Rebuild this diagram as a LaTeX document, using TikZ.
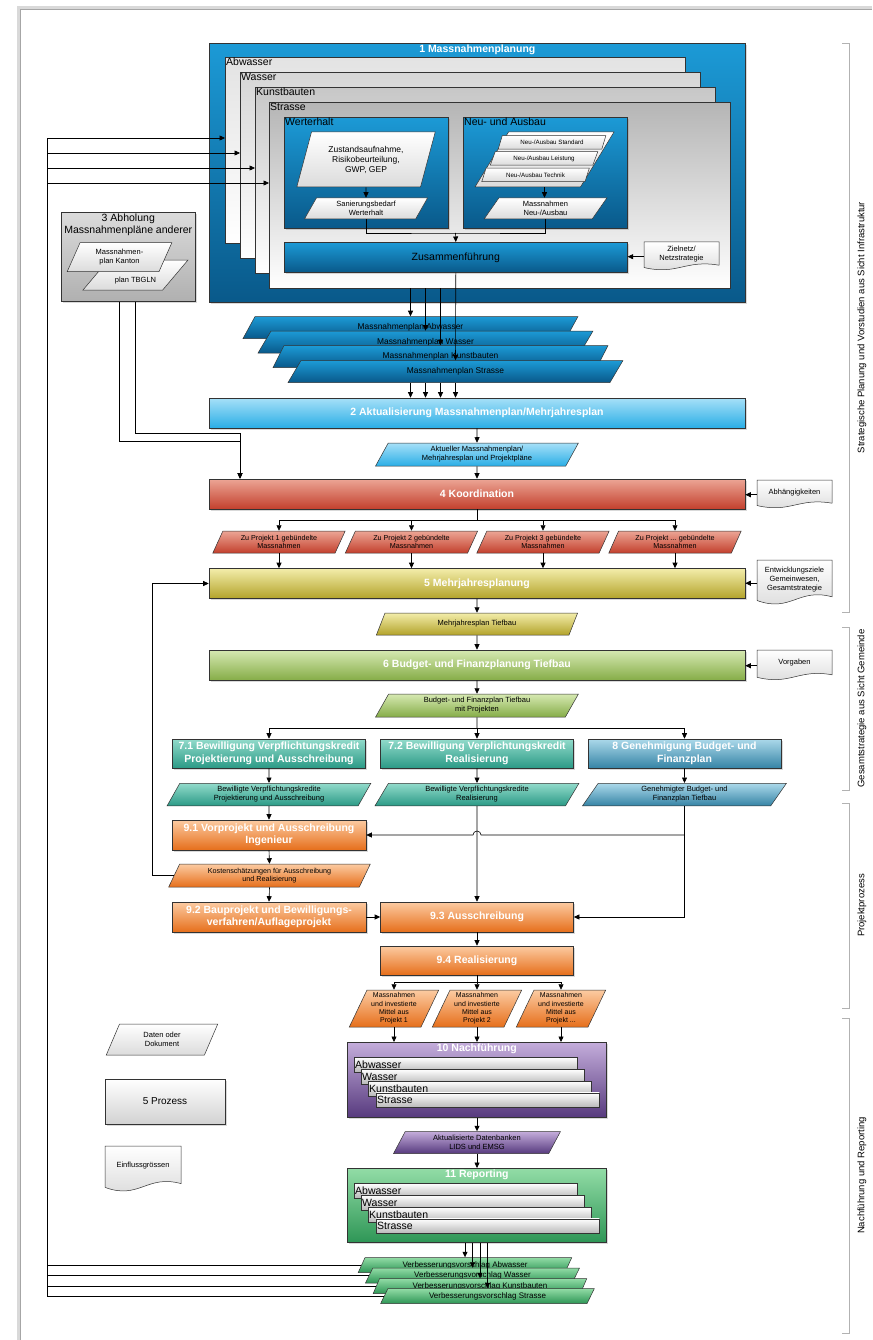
\documentclass[tikz,border=0pt]{standalone}
\usepackage{fontspec}
\setmainfont{Liberation Sans}
\usetikzlibrary{arrows.meta,shapes.geometric,shadows}

\definecolor{Rahmen}{HTML}{333333}
\definecolor{BlauOben}{HTML}{1C9AD6}
\definecolor{BlauUnten}{HTML}{09598A}
\definecolor{HellblauOben}{HTML}{A6E0F8}
\definecolor{HellblauUnten}{HTML}{2AAEE6}
\definecolor{RotOben}{HTML}{ECA595}
\definecolor{RotUnten}{HTML}{C3402D}
\definecolor{OlivOben}{HTML}{F3EDAA}
\definecolor{OlivUnten}{HTML}{B3A32A}
\definecolor{GruenOben}{HTML}{D6E9B2}
\definecolor{GruenUnten}{HTML}{86AD48}
\definecolor{TuerkisOben}{HTML}{92DBCB}
\definecolor{TuerkisUnten}{HTML}{2B9A86}
\definecolor{PetrolOben}{HTML}{ABD9EA}
\definecolor{PetrolUnten}{HTML}{3684A6}
\definecolor{OrangeOben}{HTML}{FCCBA2}
\definecolor{OrangeUnten}{HTML}{E66F1B}
\definecolor{LilaOben}{HTML}{C4ADDB}
\definecolor{LilaUnten}{HTML}{573A7E}
\definecolor{MintOben}{HTML}{92DCA6}
\definecolor{MintUnten}{HTML}{2E9656}

\newcommand{\FTitel}{\fontsize{10.5}{12.5}\selectfont\bfseries}
\newcommand{\FBogen}{\fontsize{10.5}{12}\selectfont}
\newcommand{\FKlein}{\fontsize{7.5}{9}\selectfont}
\newcommand{\FMini}{\fontsize{6.2}{7}\selectfont}
\newcommand{\FSeite}{\fontsize{9.5}{11}\selectfont}

\newcommand{\Dokument}[6]{% name, x, y, breite, hoehe, text
  \path[draw=Rahmen,line width=0.5pt,top color=white,bottom color=gray!30]
    (#2,#3) -- ({#2+#4},#3) -- ({#2+#4},{#3+0.8*#5})
    .. controls ({#2+0.55*#4},{#3+0.6*#5}) and ({#2+0.45*#4},{#3+1.15*#5}) .. (#2,{#3+0.88*#5}) -- cycle;
  \node[inner sep=0pt,minimum width=#4pt,minimum height=#5pt,anchor=north west] (#1) at (#2,#3) {};
  \node[align=center,font=\FKlein] (#1-text) at ({#2+#4/2},{#3+0.42*#5}) {#6};}

\tikzset{
  prozess/.style={draw=Rahmen,line width=0.6pt,text=white,font=\FTitel,align=center,inner sep=1pt,
    drop shadow={shadow xshift=1.5pt,shadow yshift=-1.5pt,opacity=0.3}},
  daten/.style={trapezium,trapezium left angle=65,trapezium right angle=115,trapezium stretches=true,
    draw=Rahmen,line width=0.5pt,align=center,inner sep=0.5pt,font=\FKlein},
  bogen/.style={draw=Rahmen,line width=0.5pt,bottom color=white,anchor=north west,inner sep=0pt},
  kleinbogen/.style={draw=Rahmen,line width=0.5pt,top color=white,bottom color=gray!55,anchor=north west,
    inner sep=0pt,minimum width=223pt,minimum height=14.5pt},
  pfeil/.style={-{Triangle[length=5.5pt,width=5pt]},line width=0.6pt},
  linie/.style={line width=0.6pt},
  klammer/.style={draw=gray!60,line width=0.8pt},
  blau/.style={top color=BlauOben,bottom color=BlauUnten},
  hellblau/.style={top color=HellblauOben,bottom color=HellblauUnten},
  rot/.style={top color=RotOben,bottom color=RotUnten},
  oliv/.style={top color=OlivOben,bottom color=OlivUnten},
  gruen/.style={top color=GruenOben,bottom color=GruenUnten},
  tuerkis/.style={top color=TuerkisOben,bottom color=TuerkisUnten},
  petrol/.style={top color=PetrolOben,bottom color=PetrolUnten},
  orange/.style={top color=OrangeOben,bottom color=OrangeUnten},
  lila/.style={top color=LilaOben,bottom color=LilaUnten},
  mint/.style={top color=MintOben,bottom color=MintUnten},
  weiss/.style={top color=white,bottom color=gray!28},
  grau/.style={top color=gray!28,bottom color=gray!62},
}

\begin{document}
\begin{tikzpicture}[x=1pt,y=-1pt]
\useasboundingbox (0,0) rectangle (872,1340);
\draw[gray!30,line width=3pt] (18.5,1340) -- (18.5,7.5) -- (872,7.5);
\draw[gray!70,line width=0.6pt] (20,1340) -- (20,9) -- (872,9);

% Phasen rechts
\foreach \oben/\unten/\titel [count=\i] in {43/612/Strategische Planung und Vorstudien aus Sicht Infrastruktur,627/790/Gesamtstrategie aus Sicht Gemeinde,803/1008/Projektprozess,1018/1333/Nachführung und Reporting}{
  \draw[klammer] (842,\oben) -- (849,\oben) -- (849,\unten) -- (842,\unten);
  \node[rotate=90,font=\FSeite] (phase\i) at (862,{(\oben+\unten)/2}) {\titel};
}

% 1 Massnahmenplanung
\node[prozess,blau,minimum width=536pt,minimum height=259pt,anchor=north west,
  label={[anchor=north,text=white,font=\FTitel,inner sep=1.5pt]north:1 Massnahmenplanung}] (mplan) at (209,43) {};
\node[bogen,top color=gray!22,minimum width=460pt,minimum height=186pt,
  label={[anchor=north west,inner sep=1pt,font=\FBogen]north west:Abwasser}] (abw) at (225,57) {};
\node[bogen,top color=gray!32,minimum width=460pt,minimum height=186pt,
  label={[anchor=north west,inner sep=1pt,font=\FBogen]north west:Wasser}] (was) at (240,72) {};
\node[bogen,top color=gray!44,minimum width=460pt,minimum height=186pt,
  label={[anchor=north west,inner sep=1pt,font=\FBogen]north west:Kunstbauten}] (kun) at (255,87) {};
\node[bogen,top color=gray!58,minimum width=461pt,minimum height=186pt,
  label={[anchor=north west,inner sep=1pt,font=\FBogen]north west:Strasse}] (str) at (269,102) {};

\node[prozess,blau,minimum width=164pt,minimum height=111pt,anchor=north west,
  label={[anchor=north west,inner sep=1pt,font=\FBogen]north west:Werterhalt}] (wert) at (284,117) {};
\node[prozess,blau,minimum width=164pt,minimum height=111pt,anchor=north west,
  label={[anchor=north west,inner sep=1pt,font=\FBogen]north west:Neu- und Ausbau}] (ausbau) at (463,117) {};
\node[daten,weiss,trapezium left angle=70,trapezium right angle=110,minimum width=139pt,minimum height=55pt,
  font=\fontsize{8.5}{10}\selectfont] (zust) at (366,159.5) {Zustandsaufnahme,\\Risikobeurteilung,\\GWP, GEP};
\node[daten,weiss,minimum width=124pt,minimum height=21pt] (sanb) at (366,208.5) {Sanierungsbedarf\\Werterhalt};
\node[daten,weiss,minimum width=139pt,minimum height=55pt] (neuaus) at (544.5,159.5) {};
\node[daten,weiss,minimum width=108pt,minimum height=13.5pt,font=\FMini] (nstd) at (552,142.5) {Neu-/Ausbau Standard};
\node[daten,weiss,minimum width=108pt,minimum height=13.5pt,font=\FMini] (nlst) at (544,158.5) {Neu-/Ausbau Leistung};
\node[daten,weiss,minimum width=108pt,minimum height=13.5pt,font=\FMini] (ntec) at (535.5,175) {Neu-/Ausbau Technik};
\node[daten,weiss,minimum width=123pt,minimum height=21pt] (mneu) at (545.5,208.5) {Massnahmen\\Neu-/Ausbau};
\node[prozess,blau,text=black,font=\FBogen,minimum width=343pt,minimum height=30pt,anchor=north west] (zus) at (284,242) {Zusammenführung};
\Dokument{ziel}{644}{242}{75}{29}{Zielnetz/\\Netzstrategie}

\draw[pfeil] (zust.south) -- (sanb.north);
\draw[pfeil] (neuaus.south) -- (neuaus.south |- mneu.north);
\coordinate (zsam) at (455.5,233);
\draw[linie] (sanb.south) |- (zsam) -| (mneu.south);
\draw[pfeil] (zsam) -- (zus.north);
\draw[pfeil] (ziel.west) -- (ziel.west -| zus.east);

% 3 Abholung
\node[prozess,grau,minimum width=134pt,minimum height=89pt,anchor=north west,
  label={[anchor=north,align=center,inner sep=1.5pt,font=\FBogen]north:3 Abholung\\Massnahmenpläne anderer}] (abhol) at (61,212) {};
\node[daten,weiss,minimum width=105pt,minimum height=30pt,
  label={[yshift=-6pt,font=\FKlein]center:plan TBGLN}] (tbgln) at (135.5,275) {};
\node[daten,weiss,minimum width=105pt,minimum height=29pt] (kanton) at (119.5,257.2) {Massnahmen-\\plan Kanton};

% Massnahmenplaene
\node[daten,blau,minimum width=335pt,minimum height=22pt,font=\fontsize{8.4}{10}\selectfont] (mpa) at (410.5,327.5) {Massnahmenplan Abwasser};
\node[daten,blau,minimum width=335pt,minimum height=22pt,font=\fontsize{8.4}{10}\selectfont] (mpw) at (425.5,342) {Massnahmenplan Wasser};
\node[daten,blau,minimum width=335pt,minimum height=22pt,font=\fontsize{8.4}{10}\selectfont] (mpk) at (440.5,356.5) {Massnahmenplan Kunstbauten};
\node[daten,blau,minimum width=335pt,minimum height=22pt,font=\fontsize{8.4}{10}\selectfont] (mps) at (455.5,371.5) {Massnahmenplan Strasse};
\coordinate (ausA) at (410.5,288);
\coordinate (ausW) at (425.5,288);
\coordinate (ausK) at (440.5,288);
\draw[pfeil] (ausA) -- (mpa.north);
\draw[pfeil] (ausW) -- (mpw.north);
\draw[pfeil] (ausK) -- (mpk.north);
\draw[pfeil] (zus.south) -- (mps.north);

% 2 Aktualisierung
\node[prozess,hellblau,minimum width=536pt,minimum height=30pt] (akt) at (477,413) {2 Aktualisierung Massnahmenplan/Mehrjahresplan};
\foreach \p in {mpa,mpw,mpk,mps}
  \draw[pfeil] (mps.south -| \p.north) -- (akt.north -| \p.north);
\node[daten,hellblau,minimum width=203pt,minimum height=23pt] (aktp) at (477,454.5) {Aktueller Massnahmenplan/\\Mehrjahresplan und Projektpläne};
\draw[pfeil] (akt.south) -- (aktp.north);

% 4 Koordination
\node[prozess,rot,minimum width=536pt,minimum height=30pt] (koord) at (477,494) {4 Koordination};
\draw[pfeil] (aktp.south) -- (koord.north);
\Dokument{abh}{757}{480}{75}{29}{Abhängigkeiten}
\draw[pfeil] (abh.west) -- (abh.west -| koord.east);
\coordinate (knickK) at (240,441);
\coordinate (knickT) at (240,433);
\draw[pfeil] (abhol.south -| kanton.south) |- (knickK) -- (knickK |- koord.north);
\draw[pfeil] (abhol.south -| tbgln.south) |- (knickT) -- (knickT |- koord.north);

\node[daten,rot,minimum width=133pt,minimum height=22pt,font=\fontsize{7.2}{8.6}\selectfont] (proj1) at (279,542) {Zu Projekt 1 gebündelte\\Massnahmen};
\node[daten,rot,minimum width=133pt,minimum height=22pt,font=\fontsize{7.2}{8.6}\selectfont] (proj2) at (411.5,542) {Zu Projekt 2 gebündelte\\Massnahmen};
\node[daten,rot,minimum width=133pt,minimum height=22pt,font=\fontsize{7.2}{8.6}\selectfont] (proj3) at (543,542) {Zu Projekt 3 gebündelte\\Massnahmen};
\node[daten,rot,minimum width=133pt,minimum height=22pt,font=\fontsize{7.2}{8.6}\selectfont] (proj4) at (675,542) {Zu Projekt ... gebündelte\\Massnahmen};
\coordinate (jkoord) at (477,520);
\draw[linie] (koord.south) -- (jkoord);

% 5 Mehrjahresplanung
\node[prozess,oliv,minimum width=536pt,minimum height=30pt] (mjp) at (477,583.5) {5 Mehrjahresplanung};
\foreach \p in {proj1,proj2,proj3,proj4}{
  \draw[pfeil] (jkoord) -| (\p.north);
  \draw[pfeil] (\p.south) -- (\p.south |- mjp.north);
}
\Dokument{entw}{757}{560}{75}{46}{Entwicklungsziele\\Gemeinwesen,\\Gesamtstrategie}
\draw[pfeil] (entw.west) -- (entw.west -| mjp.east);
\node[daten,oliv,minimum width=203pt,minimum height=22pt] (mjt) at (477,624) {Mehrjahresplan Tiefbau};
\draw[pfeil] (mjp.south) -- (mjt.north);

% 6 Budget
\node[prozess,gruen,minimum width=536pt,minimum height=30pt] (bfp) at (477,665) {6 Budget- und Finanzplanung Tiefbau};
\draw[pfeil] (mjt.south) -- (bfp.north);
\Dokument{vorg}{757}{650}{75}{31}{Vorgaben}
\draw[pfeil] (vorg.west) -- (vorg.west -| bfp.east);
\node[daten,gruen,minimum width=203pt,minimum height=23pt] (bfpl) at (477,705.5) {Budget- und Finanzplan Tiefbau\\mit Projekten};
\draw[pfeil] (bfp.south) -- (bfpl.north);
\coordinate (jbfp) at (477,728);
\draw[linie] (bfpl.south) -- (jbfp);

% 7 / 8
\node[prozess,tuerkis,minimum width=193pt,minimum height=29pt] (vk71) at (269,753.5) {7.1 Bewilligung Verpflichtungskredit\\Projektierung und Ausschreibung};
\node[prozess,tuerkis,minimum width=193pt,minimum height=29pt] (vk72) at (477,753.5) {7.2 Bewilligung Verplichtungskredit\\Realisierung};
\node[prozess,petrol,minimum width=193pt,minimum height=29pt] (gen8) at (684.5,753.5) {8 Genehmigung Budget- und\\Finanzplan};
\foreach \p in {vk71,vk72,gen8}
  \draw[pfeil] (jbfp) -| (\p.north);
\node[daten,tuerkis,minimum width=204pt,minimum height=22.5pt] (pv71) at (269,794.5) {Bewilligte Verpflichtungskredite\\Projektierung und Ausschreibung};
\node[daten,tuerkis,minimum width=204pt,minimum height=22.5pt] (pv72) at (477,794.5) {Bewilligte Verpflichtungskredite\\Realisierung};
\node[daten,petrol,minimum width=204pt,minimum height=22.5pt] (pg8) at (684.5,794.5) {Genehmigter Budget- und\\Finanzplan Tiefbau};
\draw[pfeil] (vk71.south) -- (pv71.north);
\draw[pfeil] (vk72.south) -- (pv72.north);
\draw[pfeil] (gen8.south) -- (pg8.north);

% 9 Projektprozess
\node[prozess,orange,minimum width=194pt,minimum height=30pt] (vp91) at (269,835) {9.1 Vorprojekt und Ausschreibung\\Ingenieur};
\node[daten,orange,minimum width=202pt,minimum height=23pt,font=\fontsize{7.2}{8.6}\selectfont] (kost) at (269.5,875.5) {Kostenschätzungen für Ausschreibung\\und Realisierung};
\node[prozess,orange,minimum width=194pt,minimum height=30pt] (bp92) at (269,917) {9.2 Bauprojekt und Bewilligungs-\\verfahren/Auflageprojekt};
\node[prozess,orange,minimum width=193pt,minimum height=30pt] (as93) at (477,917) {9.3 Ausschreibung};
\node[prozess,orange,minimum width=193pt,minimum height=29pt] (re94) at (477,960.5) {9.4 Realisierung};
\draw[pfeil] (pv71.south) -- (vp91.north);
\draw[pfeil] (vp91.south) -- (kost.north);
\draw[pfeil] (kost.south) -- (bp92.north);
\draw[pfeil] (bp92.east) -- (as93.west);
\draw[pfeil] (pv72.south) -- (as93.north);
\draw[pfeil] (as93.south) -- (re94.north);
\draw[pfeil] (pg8.south) |- (as93.east);
\draw[pfeil] (pg8.south |- vp91.east) -- ([xshift=4pt]pv72.south |- vp91.east)
  arc[start angle=0,end angle=180,radius=4pt] -- (vp91.east);
\coordinate (rueck) at (152,583.5);
\draw[pfeil] (kost.west) -| (rueck) -- (mjp.west);

\node[daten,orange,minimum width=90pt,minimum height=37pt,font=\fontsize{7}{8.4}\selectfont] (mit1) at (394,1008.5) {Massnahmen\\und investierte\\Mittel aus\\Projekt 1};
\node[daten,orange,minimum width=90pt,minimum height=37pt,font=\fontsize{7}{8.4}\selectfont] (mit2) at (477,1008.5) {Massnahmen\\und investierte\\Mittel aus\\Projekt 2};
\node[daten,orange,minimum width=90pt,minimum height=37pt,font=\fontsize{7}{8.4}\selectfont] (mit3) at (561,1008.5) {Massnahmen\\und investierte\\Mittel aus\\Projekt ...};
\coordinate (jreal) at (477,982);
\draw[linie] (re94.south) -- (jreal);

% 10 Nachfuehrung
\node[prozess,lila,minimum width=259pt,minimum height=75pt,anchor=north west,
  label={[anchor=north,text=white,font=\FTitel,inner sep=1.5pt]north:10 Nachführung}] (nf) at (347,1042) {};
\foreach \p in {mit1,mit2,mit3}{
  \draw[pfeil] (jreal) -| (\p.north);
  \draw[pfeil] (\p.south) -- (\p.south |- nf.north);
}
\node[kleinbogen,label={[anchor=west,inner sep=1pt,font=\FBogen]west:Abwasser}] (nfa) at (354,1057) {};
\node[kleinbogen,label={[anchor=west,inner sep=1pt,font=\FBogen]west:Wasser}] (nfw) at (361,1069) {};
\node[kleinbogen,label={[anchor=west,inner sep=1pt,font=\FBogen]west:Kunstbauten}] (nfk) at (368,1081) {};
\node[kleinbogen,label={[anchor=west,inner sep=1pt,font=\FBogen]west:Strasse}] (nfs) at (376,1092.5) {};
\node[daten,lila,minimum width=167pt,minimum height=22pt] (daten) at (477,1142.5) {Aktualisierte Datenbanken\\LIDS und EMSG};
\draw[pfeil] (nf.south -| daten.north) -- (daten.north);

% 11 Reporting
\node[prozess,mint,minimum width=259pt,minimum height=74pt,anchor=north west,
  label={[anchor=north,text=white,font=\FTitel,inner sep=1.5pt]north:11 Reporting}] (rp) at (347,1168) {};
\draw[pfeil] (daten.south) -- (daten.south |- rp.north);
\node[kleinbogen,label={[anchor=west,inner sep=1pt,font=\FBogen]west:Abwasser}] (rpa) at (354,1183) {};
\node[kleinbogen,label={[anchor=west,inner sep=1pt,font=\FBogen]west:Wasser}] (rpw) at (361,1195) {};
\node[kleinbogen,label={[anchor=west,inner sep=1pt,font=\FBogen]west:Kunstbauten}] (rpk) at (368,1207) {};
\node[kleinbogen,label={[anchor=west,inner sep=1pt,font=\FBogen]west:Strasse}] (rps) at (376,1218.5) {};

\node[daten,mint,trapezium left angle=63,trapezium right angle=117,minimum width=214pt,minimum height=15pt,font=\fontsize{8}{9}\selectfont] (vabw) at (465,1265) {Verbesserungsvorschlag Abwasser};
\node[daten,mint,trapezium left angle=63,trapezium right angle=117,minimum width=214pt,minimum height=15pt,font=\fontsize{8}{9}\selectfont] (vwas) at (472.5,1275.5) {Verbesserungsvorschlag Wasser};
\node[daten,mint,trapezium left angle=63,trapezium right angle=117,minimum width=214pt,minimum height=15pt,font=\fontsize{8}{9}\selectfont] (vkun) at (480,1286) {Verbesserungsvorschlag Kunstbauten};
\node[daten,mint,trapezium left angle=63,trapezium right angle=117,minimum width=214pt,minimum height=15pt,font=\fontsize{8}{9}\selectfont] (vstr) at (487.5,1296) {Verbesserungsvorschlag Strasse};
\foreach \v in {vabw,vwas,vkun,vstr}
  \draw[pfeil] (rp.south -| \v.north) -- (\v.north);

% Rueckfuehrung
\foreach \v/\s/\y in {vabw/abw/138,vwas/was/153,vkun/kun/168,vstr/str/183}{
  \coordinate (rl\v) at (47,\y);
  \draw[pfeil] (\v.west) -| (rl\v) -- (rl\v -| \s.west);
}

% Legende
\node[daten,weiss,trapezium left angle=69,trapezium right angle=111,minimum width=112pt,minimum height=31pt] (legdaten) at (162,1039.5) {Daten oder\\Dokument};
\node[prozess,text=black,font=\fontsize{10}{12}\selectfont,top color=white,bottom color=gray!35,minimum width=120pt,minimum height=45pt] (legprozess) at (165,1101.5) {5 Prozess};
\Dokument{legdok}{105}{1146}{76}{47}{Einflussgrössen}
\end{tikzpicture}
\end{document}
